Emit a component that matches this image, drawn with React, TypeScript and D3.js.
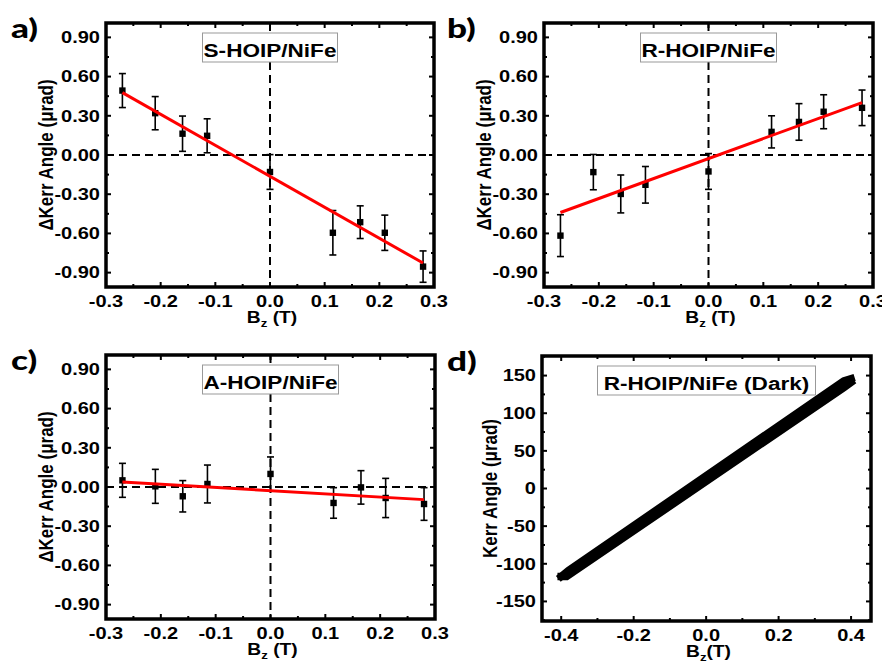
import { useEffect } from 'react';
import * as d3 from 'd3';

// field values (T) of the differential measurements
const bField = [-0.27, -0.21, -0.16, -0.115, 0, 0.115, 0.165, 0.21, 0.28];

// S-HOIP/NiFe
const sKerr = [0.493, 0.32, 0.163, 0.147, -0.13, -0.595, -0.514, -0.595, -0.854];
const sErr = [0.13, 0.127, 0.135, 0.13, 0.133, 0.17, 0.125, 0.135, 0.12];
const sFit = [-0.163, -2.37]; // intercept, slope

// R-HOIP/NiFe
const rKerr = [-0.617, -0.131, -0.298, -0.228, -0.126, 0.177, 0.253, 0.331, 0.361];
const rErr = [0.16, 0.135, 0.145, 0.14, 0.137, 0.123, 0.14, 0.13, 0.136];
const rFit = [-0.027, 1.53];

// A-HOIP/NiFe
const aKerr = [0.051, 0.005, -0.071, 0.023, 0.1, -0.122, -0.003, -0.084, -0.13];
const aErr = [0.13, 0.13, 0.12, 0.145, 0.13, 0.117, 0.128, 0.15, 0.125];
const aFit = [-0.028, -0.245];

const fitRange = [-0.27, 0.28];

// R-HOIP/NiFe (Dark), two field sweeps
const darkUpB = [-0.4, -0.385, 0.38, 0.4];
const darkUpKerr = [-117, -117, 134, 141];
const darkDownB = [0.4, 0.38, -0.38, -0.4];
const darkDownKerr = [146, 143, -109, -117];

const deltaTicks = [-0.9, -0.6, -0.3, 0, 0.3, 0.6, 0.9];
const bTicks = [-0.3, -0.2, -0.1, 0, 0.1, 0.2, 0.3];
const darkYTicks = [-150, -100, -50, 0, 50, 100, 150];
const darkXTicks = [-0.4, -0.2, 0, 0.2, 0.4];

const FONT = '"Liberation Sans", Arial, sans-serif';

function midpoints(t: number[], lo: number, hi: number) {
  const step = t[1] - t[0];
  const out: number[] = [];
  for (let i = -1; i < t.length; i++) {
    const v = (i < 0 ? t[0] - step / 2 : t[i] + step / 2);
    if (v > lo + 1e-9 && v < hi - 1e-9) out.push(v);
  }
  return out;
}

function Txt({ x, y, size, sx = 1.22, anchor = 'middle', rot = false, dy, family = FONT, weight = 'bold', children }: any) {
  const tr = rot
    ? `translate(${x},${y}) rotate(-90) scale(1,${sx})`
    : `translate(${x},${y}) scale(${sx},1)`;
  return (
    <text transform={tr} fontSize={size} fontFamily={family} fontWeight={weight} textAnchor={anchor} dy={dy} fill="#000">
      {children}
    </text>
  );
}

function Panel(props: any) {
  const { left, right, top, bottom, xDomain, yDomain, xTicks, yTicks, xFmt, yFmt, letter, title, boxW, yTitle, xTitle, zeroLines } = props;
  const x = d3.scaleLinear().domain(xDomain).range([left, right]);
  const y = d3.scaleLinear().domain(yDomain).range([bottom, top]);
  const xMinor = midpoints(xTicks, xDomain[0], xDomain[1]);
  const yMinor = midpoints(yTicks, yDomain[0], yDomain[1]);
  const cx = (left + right) / 2;
  const major = 5, minor = 3;

  return (
    <g>
      {zeroLines && (
        <g stroke="#000" strokeWidth={2} strokeDasharray="8,5">
          <line x1={left} x2={right} y1={y(0)} y2={y(0)} />
          <line x1={x(0)} x2={x(0)} y1={top} y2={bottom} />
        </g>
      )}
      {props.children(x, y)}
      <g stroke="#000" strokeWidth={2}>
        {xTicks.map((t: number) => (
          <g key={'xt' + t}>
            <line x1={x(t)} x2={x(t)} y1={bottom} y2={bottom - major} />
            <line x1={x(t)} x2={x(t)} y1={top} y2={top + major} />
          </g>
        ))}
        {xMinor.map((t: number) => (
          <g key={'xm' + t}>
            <line x1={x(t)} x2={x(t)} y1={bottom} y2={bottom - minor} />
            <line x1={x(t)} x2={x(t)} y1={top} y2={top + minor} />
          </g>
        ))}
        {yTicks.map((t: number) => (
          <g key={'yt' + t}>
            <line x1={left} x2={left + major} y1={y(t)} y2={y(t)} />
            <line x1={right} x2={right - major} y1={y(t)} y2={y(t)} />
          </g>
        ))}
        {yMinor.map((t: number) => (
          <g key={'ym' + t}>
            <line x1={left} x2={left + minor} y1={y(t)} y2={y(t)} />
            <line x1={right} x2={right - minor} y1={y(t)} y2={y(t)} />
          </g>
        ))}
      </g>
      <rect x={left} y={top} width={right - left} height={bottom - top} fill="none" stroke="#000" strokeWidth={3.5} />
      <rect x={cx - boxW / 2} y={top + 10} width={boxW} height={29} fill="#fff" stroke="#999" strokeWidth={1} />
      <Txt x={cx} y={top + 34} size={18.5}>{title}</Txt>
      {xTicks.map((t: number) => (
        <Txt key={'xl' + t} x={x(t)} y={bottom + 20} size={16} sx={1.25}>{xFmt(t)}</Txt>
      ))}
      {yTicks.map((t: number) => (
        <Txt key={'yl' + t} x={left - 6} y={y(t)} dy="0.36em" size={16} sx={1.25} anchor="end">{yFmt(t)}</Txt>
      ))}
      <Txt x={cx + 2} y={bottom + 36} size={16} sx={1.2}>
        B<tspan dy={4} fontSize={11}>z</tspan><tspan dy={-4}>{xTitle}</tspan>
      </Txt>
      <Txt x={props.yTitleX} y={(top + bottom) / 2} size={17} sx={1.15} rot>{yTitle}</Txt>
      <Txt x={props.letterX} y={top + 15} size={27} sx={1.3} anchor="start" weight={900} family='Lato, "Open Sans", sans-serif'>{letter}</Txt>
    </g>
  );
}

function Errorbars({ x, y, vals, errs, fit }: any) {
  const fitLine = d3.line<number>().x((b) => x(b)).y((b) => y(fit[0] + fit[1] * b));
  return (
    <g>
      <g stroke="#000" strokeWidth={1.6}>
        {bField.map((b, i) => (
          <g key={i}>
            <line x1={x(b)} x2={x(b)} y1={y(vals[i] - errs[i])} y2={y(vals[i] + errs[i])} />
            <line x1={x(b) - 3.5} x2={x(b) + 3.5} y1={y(vals[i] - errs[i])} y2={y(vals[i] - errs[i])} />
            <line x1={x(b) - 3.5} x2={x(b) + 3.5} y1={y(vals[i] + errs[i])} y2={y(vals[i] + errs[i])} />
          </g>
        ))}
      </g>
      {bField.map((b, i) => (
        <rect key={'m' + i} x={x(b) - 3.2} y={y(vals[i]) - 3.2} width={6.4} height={6.4} fill="#000" />
      ))}
      <path d={fitLine(fitRange) || ''} stroke="#ff0000" strokeWidth={3} fill="none" />
    </g>
  );
}

export default function App() {
  useEffect(() => {
    document.body.style.margin = '0';
  }, []);

  const hy = (s: string) => s.replace('\u2212', '-');
  const f2 = (v: number) => hy(d3.format('.2f')(v));
  const f1 = (v: number) => hy(d3.format('.1f')(v));
  const dDomain = [-1.01, 1.01];
  const bDomain = [-0.3, 0.3];
  const yTitle = '\u0394Kerr Angle (\u03bcrad)';
  const sweep = d3.line<number>();

  return (
    <svg width={882} height={663} style={{ display: 'block', background: '#fff' }}>
      <Panel left={106} right={434} top={23} bottom={287} xDomain={bDomain} yDomain={dDomain}
        xTicks={bTicks} yTicks={deltaTicks} xFmt={f1} yFmt={f2} letter="a)" letterX={11}
        title="S-HOIP/NiFe" boxW={135} yTitle={yTitle} yTitleX={53} xTitle=" (T)" zeroLines>
        {(x: any, y: any) => <Errorbars x={x} y={y} vals={sKerr} errs={sErr} fit={sFit} />}
      </Panel>
      <Panel left={544} right={873} top={23} bottom={287} xDomain={bDomain} yDomain={dDomain}
        xTicks={bTicks} yTicks={deltaTicks} xFmt={f1} yFmt={f2} letter="b)" letterX={447}
        title="R-HOIP/NiFe" boxW={136} yTitle={yTitle} yTitleX={491} xTitle=" (T)" zeroLines>
        {(x: any, y: any) => <Errorbars x={x} y={y} vals={rKerr} errs={rErr} fit={rFit} />}
      </Panel>
      <Panel left={106} right={435} top={355} bottom={619} xDomain={bDomain} yDomain={dDomain}
        xTicks={bTicks} yTicks={deltaTicks} xFmt={f1} yFmt={f2} letter="c)" letterX={11}
        title="A-HOIP/NiFe" boxW={136} yTitle={yTitle} yTitleX={53} xTitle=" (T)" zeroLines>
        {(x: any, y: any) => <Errorbars x={x} y={y} vals={aKerr} errs={aErr} fit={aFit} />}
      </Panel>
      <Panel left={542} right={871} top={356} bottom={621} xDomain={[-0.453, 0.455]} yDomain={[-176, 176]}
        xTicks={darkXTicks} yTicks={darkYTicks} xFmt={f1} yFmt={(v: number) => String(v)} letter="d)" letterX={447}
        title="R-HOIP/NiFe (Dark)" boxW={218} yTitle={'Kerr Angle (\u03bcrad)'} yTitleX={497} xTitle="(T)">
        {(x: any, y: any) => (
          <g fill="none" stroke="#000" strokeWidth={7.5} strokeLinecap="square" strokeLinejoin="miter">
            <path d={sweep(darkUpB.map((b, i) => [x(b), y(darkUpKerr[i])]) as any) || ''} />
            <path d={sweep(darkDownB.map((b, i) => [x(b), y(darkDownKerr[i])]) as any) || ''} />
          </g>
        )}
      </Panel>
    </svg>
  );
}
